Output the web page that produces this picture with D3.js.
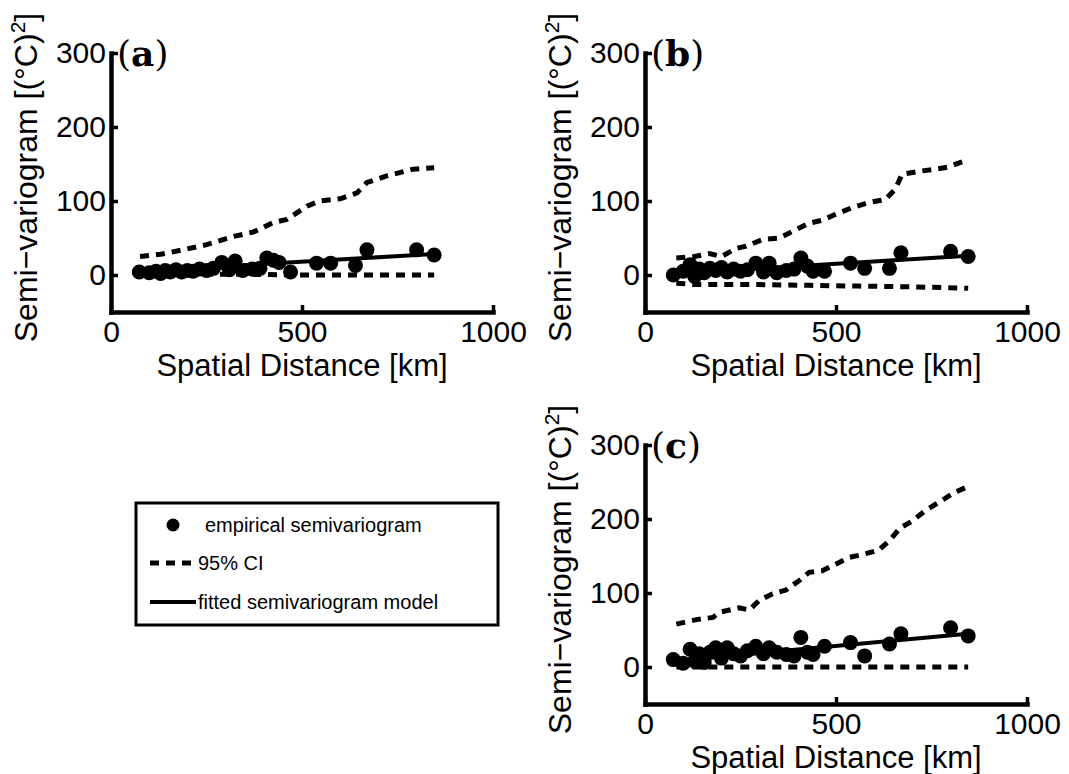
<!DOCTYPE html>
<html>
<head>
<meta charset="utf-8">
<script src="https://cdn.jsdelivr.net/npm/d3@7"></script>
<style>
body { margin: 0; background: #fff; }
svg text { font-family: "Liberation Sans", Arial, sans-serif; fill: #000; }
</style>
</head>
<body>
<svg width="1069" height="774"></svg>
<script>
// lag distances (km) of the empirical semivariogram, shared by all panels
var lagKm = [74, 100, 118, 130, 142, 155, 170, 185, 200, 215, 232, 250, 268, 290, 310,
             325, 345, 370, 390, 408, 425, 440, 470, 538, 575, 640, 670, 800, 846];

var empA = [4, 3, 5, 2, 6, 4, 7, 4, 6, 5, 8, 6, 9, 17, 7,
            19, 6, 8, 9, 23, 20, 17, 4, 16, 16, 13, 34, 34, 27];
var empB = [0, 5, 14, -2, 8, 3, 9, 6, 10, 4, 8, 5, 7, 16, 4,
            16, 3, 6, 8, 23, 12, 5, 5, 16, 9, 9, 30, 32, 25];
var empC = [10, 5, 24, 8, 18, 6, 20, 26, 12, 26, 18, 15, 22, 28, 18,
            26, 20, 17, 15, 40, 20, 17, 28, 33, 15, 31, 45, 53, 42];

// fitted model (straight line) end points
var fitKm = [74, 846];
var fitA = [5, 28.5];
var fitB = [2, 26];
var fitC = [8, 45];

// 95% confidence bounds
var ciUpKmA = [76, 130, 198, 250, 320, 372, 425, 460, 513, 547, 600, 644, 670, 722, 791, 846];
var ciUpA   = [25, 28, 35, 41, 52, 58, 71, 75, 93, 100, 103, 111, 125, 134, 143, 145];
var ciLoKmA = [76, 200, 350, 500, 650, 846];
var ciLoA   = [2, 1, 1, 0, 0, 0];

var ciUpKmB = [82, 130, 169, 200, 239, 265, 308, 352, 386, 430, 464, 499, 542, 586, 629, 655, 673, 716, 760, 794, 846];
var ciUpB   = [23, 25, 29, 25, 36, 39, 48, 50, 59, 70, 74, 82, 91, 98, 102, 116, 136, 140, 143, 146, 156];
var ciLoKmB = [82, 130, 200, 300, 430, 560, 700, 846];
var ciLoB   = [-11, -13, -13, -13, -14, -15, -16, -18];

var ciUpKmC = [82, 135, 178, 195, 247, 273, 299, 334, 369, 404, 430, 464, 499, 534, 569, 612, 642, 668, 699, 733, 777, 811, 846];
var ciUpC   = [58, 64, 67, 74, 80, 77, 90, 99, 104, 117, 128, 130, 139, 148, 152, 158, 172, 188, 197, 211, 225, 236, 244];
var ciLoKmC = [82, 250, 450, 650, 846];
var ciLoC   = [0, 0, 0, 0, 0];

var xTicks = [0, 500, 1000];
var yTicks = [0, 100, 200, 300];
var legendLabels = ["empirical semivariogram", "95% CI", "fitted semivariogram model"];

var svg = d3.select("svg");
var plotW = 382, plotH = 259;

function zip(xs, ys) {
    return xs.map(function(d, i) { return [d, ys[i]]; });
}

function drawPanel(left, top, letter, emp, fit, upKm, up, loKm, lo) {
    var x = d3.scaleLinear().domain([0, 1000]).range([0, plotW]);
    var y = d3.scaleLinear().domain([-50, 300]).range([plotH, 0]);
    var g = svg.append("g").attr("transform", "translate(" + left + "," + top + ")");
    var line = d3.line().x(function(d) { return x(d[0]); }).y(function(d) { return y(d[1]); });

    // CI bounds
    [zip(upKm, up), zip(loKm, lo)].forEach(function(pts) {
        g.append("path").attr("d", line(pts))
            .attr("fill", "none").attr("stroke", "#000")
            .attr("stroke-width", 5).attr("stroke-dasharray", "9,7");
    });

    // fitted model
    g.append("path").attr("d", line(zip(fitKm, fit)))
        .attr("fill", "none").attr("stroke", "#000").attr("stroke-width", 4);

    // empirical points
    g.selectAll(".pt").data(zip(lagKm, emp)).enter().append("circle")
        .attr("class", "pt")
        .attr("cx", function(d) { return x(d[0]); })
        .attr("cy", function(d) { return y(d[1]); })
        .attr("r", 7.5).attr("fill", "#000");

    var gx = g.append("g").attr("transform", "translate(0," + plotH + ")")
        .call(d3.axisBottom(x).tickValues(xTicks).tickFormat(d3.format("d"))
            .tickSizeInner(-7).tickSizeOuter(0).tickPadding(9));
    var gy = g.append("g")
        .call(d3.axisLeft(y).tickValues(yTicks).tickFormat(d3.format("d"))
            .tickSizeInner(-7).tickSizeOuter(0).tickPadding(5));
    [gx, gy].forEach(function(a) {
        a.select(".domain").attr("stroke-width", 4.5).attr("stroke-linecap", "square");
        a.selectAll(".tick line").attr("stroke-width", 3.5);
        a.selectAll(".tick text").attr("font-size", 30).attr("font-family", "Liberation Sans, Arial, sans-serif");
    });

    g.append("text")
        .attr("x", plotW / 2).attr("y", plotH + 64)
        .attr("text-anchor", "middle").attr("font-size", 31)
        .text("Spatial Distance [km]");

    var yl = g.append("text")
        .attr("transform", "translate(-74," + (plotH / 2 - 5) + ") rotate(-90)")
        .attr("text-anchor", "middle").attr("font-size", 32);
    yl.append("tspan").text("Semi\u2212variogram [(\u00B0C)");
    yl.append("tspan").attr("font-size", 21).attr("dy", -12).text("2");
    yl.append("tspan").attr("dy", 12).text("]");

    var pl = g.append("text").attr("x", 6).attr("y", 13)
        .attr("font-size", 36).style("font-family", "DejaVu Serif, serif");
    pl.append("tspan").text("(");
    pl.append("tspan").attr("font-weight", "bold").text(letter);
    pl.append("tspan").text(")");
}

drawPanel(111, 53, "a", empA, fitA, ciUpKmA, ciUpA, ciLoKmA, ciLoA);
drawPanel(645, 53, "b", empB, fitB, ciUpKmB, ciUpB, ciLoKmB, ciLoB);
drawPanel(645, 445, "c", empC, fitC, ciUpKmC, ciUpC, ciLoKmC, ciLoC);

// legend
var lg = svg.append("g").attr("transform", "translate(136,503)");
lg.append("rect").attr("width", 362).attr("height", 122)
    .attr("fill", "#fff").attr("stroke", "#000").attr("stroke-width", 3);
var rowY = [22, 60, 99];
lg.append("circle").attr("cx", 37).attr("cy", rowY[0]).attr("r", 6.5).attr("fill", "#000");
lg.append("line").attr("x1", 14).attr("x2", 60).attr("y1", rowY[1]).attr("y2", rowY[1])
    .attr("stroke", "#000").attr("stroke-width", 5).attr("stroke-dasharray", "9,7");
lg.append("line").attr("x1", 14).attr("x2", 60).attr("y1", rowY[2]).attr("y2", rowY[2])
    .attr("stroke", "#000").attr("stroke-width", 4);
lg.selectAll(".lt").data(legendLabels).enter().append("text")
    .attr("class", "lt")
    .attr("x", function(d, i) { return i === 0 ? 69 : 62; })
    .attr("y", function(d, i) { return rowY[i] + 7; })
    .attr("font-size", 20)
    .text(function(d) { return d; });
</script>
</body>
</html>
